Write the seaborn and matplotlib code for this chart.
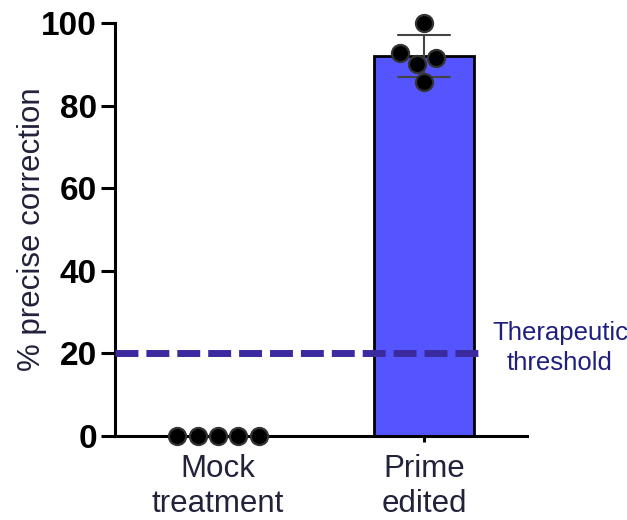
import numpy as np
import pandas as pd
import matplotlib
matplotlib.use("Agg")
import matplotlib.pyplot as plt
import seaborn as sns

# Per-replicate values (% precise correction)
groups = ["Mock\ntreatment", "Prime\nedited"]
mock_values = [0, 0, 0, 0, 0]
prime_values = [100.0, 92.7, 91.5, 90.1, 85.7]
threshold = 20
threshold_label = "Therapeutic\nthreshold"
y_ticks = [0, 20, 40, 60, 80, 100]

df = pd.DataFrame({
    "group": [groups[0]] * len(mock_values) + [groups[1]] * len(prime_values),
    "value": mock_values + prime_values,
})

sns.set_theme(style="ticks")
plt.rcParams["font.family"] = ["Liberation Sans", "DejaVu Sans"]

fig = plt.figure(figsize=(6.27, 5.2), dpi=100)
ax = fig.add_axes([0.1834, 0.1615, 0.6571, 0.7943])

sns.barplot(
    data=df, x="group", y="value", order=groups,
    color="#5555ff", saturation=1, width=0.49,
    edgecolor="black", linewidth=2,
    errorbar="sd", capsize=0.25,
    err_kws={"color": "#444444", "linewidth": 1.5},
    ax=ax, zorder=2,
)

# Dashed threshold line across the plot
ax.axhline(threshold, xmin=0, xmax=0.893, color="#3b2a9f", linewidth=5,
           dashes=(3.3, 1.15), dash_capstyle="butt", zorder=4, clip_on=False)
ax.text(1.66, threshold + 1.3, threshold_label, ha="center", va="center",
        fontsize=18.5, color="#1f1f80", linespacing=1.3)

sns.swarmplot(
    data=df, x="group", y="value", order=groups,
    color="black", size=12.3, edgecolor="#333333", linewidth=1.6,
    ax=ax, zorder=5,
)
# Mirror the swarm of the edited group so the higher replicate sits on the left
for coll in ax.collections:
    coll.set_clip_on(False)
    offs = coll.get_offsets()
    if len(offs) and np.all(np.abs(offs[:, 0] - 1) < 0.4):
        offs = np.array(offs)
        offs[:, 0] = 2 - offs[:, 0]
        coll.set_offsets(offs)

ax.set_xlim(-0.5, 1.5)
ax.set_ylim(0, 100)
ax.set_yticks(y_ticks)
ax.set_xlabel("")
ax.set_ylabel("% precise correction", fontsize=22.5, color="#22223a", labelpad=-4.5)

for lbl in ax.get_yticklabels():
    lbl.set_fontweight("bold")
ax.tick_params(axis="y", labelsize=24, width=2.2, length=10, pad=3, colors="black")
ax.tick_params(axis="x", labelsize=22.5, width=2.2, length=4, pad=9,
               labelcolor="#22223a", color="black")
for lbl in ax.get_xticklabels():
    lbl.set_linespacing(1.2)

sns.despine(ax=ax)
for side in ("left", "bottom"):
    ax.spines[side].set_linewidth(2.2)
    ax.spines[side].set_color("black")

fig.savefig("out.png", dpi=100)
